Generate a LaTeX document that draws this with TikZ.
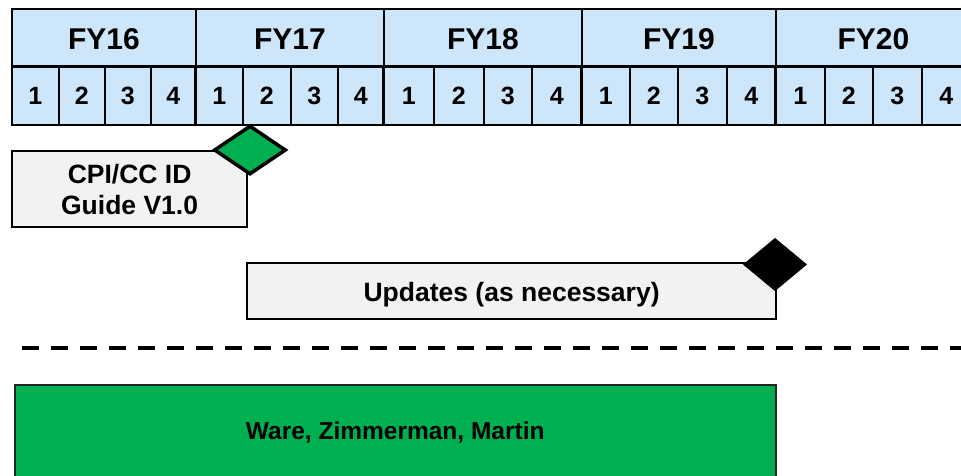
\documentclass[tikz,border=0pt]{standalone}
\usepackage{fontspec}
\setmainfont{Liberation Sans}
\usetikzlibrary{shapes.geometric}
\definecolor{hdrblue}{RGB}{205,230,250}
\definecolor{boxgray}{RGB}{242,242,242}
\definecolor{msgreen}{RGB}{0,176,80}
\tikzset{
  yearcell/.style={draw=black, line width=1.8pt, fill=hdrblue, inner sep=0pt, minimum height=58pt, anchor=north west, font=\fontsize{30}{36}\selectfont\bfseries},
  qcell/.style={draw=black, line width=1.8pt, fill=hdrblue, inner sep=0pt, minimum height=58pt, anchor=north west, font=\fontsize{25}{30}\selectfont\bfseries},
  taskbox/.style={draw=black, line width=2.2pt, fill=boxgray, inner sep=0pt, anchor=north west, align=center, font=\fontsize{26.5}{31}\selectfont\bfseries},
  milestone/.style={diamond, draw=black, line width=3.5pt, inner sep=0pt},
  dashline/.style={line width=4pt, dash pattern=on 17pt off 12pt}
}
\begin{document}
\begin{tikzpicture}[x=1pt,y=-1pt]
            \useasboundingbox (0,0) rectangle (961,475);
            \foreach \a/\b/\n in {11/195/FY16,195/383/FY17,383/581/FY18,581/775/FY19,775/970/FY20}{
              \pgfmathsetmacro\w{\b-\a}
              \node[yearcell, minimum width=\w pt, text height=24pt] (\n) at (\a,8) {\n};
            }
            \foreach \a/\b [count=\i from 0] in {11/58,58/104,104/150,150/195,195/242,242/290,290/337,337/383,383/433,433/483,483/531,531/581,581/629,629/677,677/726,726/775,775/824,824/872,872/921,921/970}{
              \pgfmathsetmacro\w{\b-\a}
              \pgfmathtruncatemacro\q{mod(\i,4)+1}
              \node[qcell, minimum width=\w pt] (q\i) at (\a,66) {\q};
            }
            \foreach \x in {195,383,581,775}
              \draw[line width=3pt] (\x,66) -- (\x,124);
            \draw[line width=3pt] (11,66) -- (961,66);
            \node[taskbox, minimum width=235pt, minimum height=76pt] (guide) at (11,150) {CPI/CC ID\\Guide V1.0};
            \node[milestone, fill=msgreen, minimum width=72pt, minimum height=49pt] (gmile) at (250,150) {};
            \node[taskbox, minimum width=529pt, minimum height=56pt, text height=27pt, text depth=5.6pt] (updates) at (246,262) {Updates (as necessary)};
            \node[milestone, fill=black, minimum width=60pt, minimum height=50pt] (umile) at (775,264.5) {};
            \draw[dashline] (22,348) -- (961,348);
            \node[draw=black!85, line width=1.5pt, fill=msgreen, inner sep=0pt, anchor=north west, minimum width=761pt, minimum height=96pt, font=\fontsize{24.5}{29}\selectfont\bfseries] (team) at (14,384) {Ware, Zimmerman, Martin};
        \end{tikzpicture}
\end{document}
